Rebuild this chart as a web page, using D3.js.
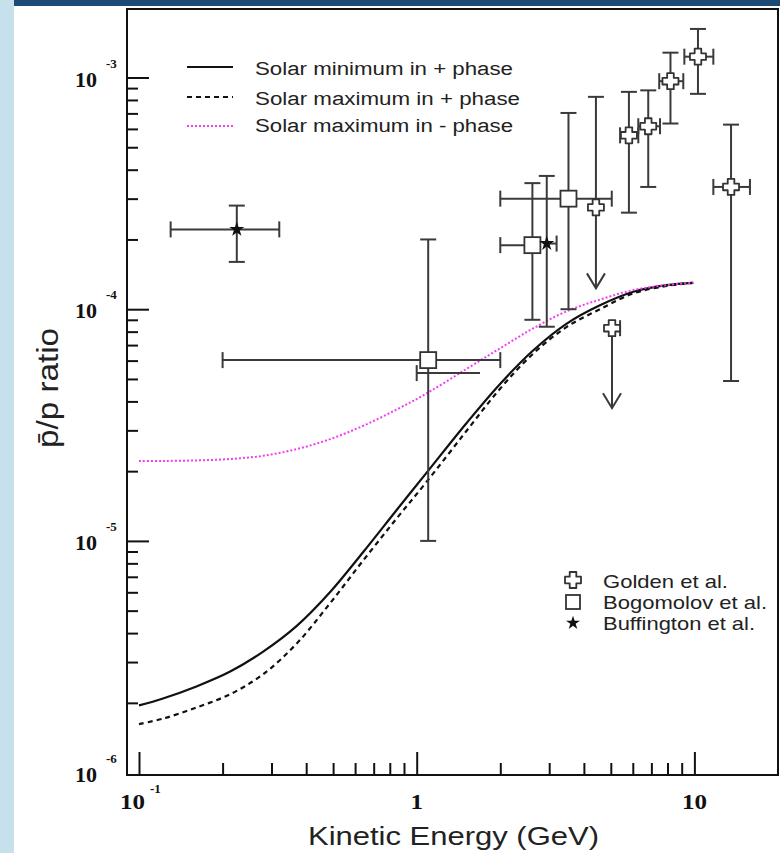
<!DOCTYPE html>
<html><head><meta charset="utf-8">
<script src="https://cdn.jsdelivr.net/npm/d3@7"></script>
<style>body{margin:0;background:#fff}svg{display:block}</style>
</head><body><svg id="c" width="780" height="853"></svg>
<script>
// ---------- data ----------
const energyGrid     = [0.1, 0.122, 0.161, 0.213, 0.28, 0.37, 0.488, 0.642, 0.847, 1.086, 1.51, 2.0, 2.63, 3.47, 4.57, 6.03, 7.94, 9.9];
const solarMinPlus   = [1.95e-6, 2.09e-6, 2.355e-6, 2.73e-6, 3.33e-6, 4.30e-6, 6.02e-6, 8.96e-6, 1.36e-5, 1.97e-5, 3.22e-5, 4.77e-5, 6.65e-5, 8.67e-5, 1.04e-4, 1.19e-4, 1.27e-4, 1.30e-4];
const solarMaxPlus   = [1.62e-6, 1.71e-6, 1.91e-6, 2.18e-6, 2.66e-6, 3.61e-6, 5.39e-6, 8.24e-6, 1.25e-5, 1.80e-5, 2.98e-5, 4.55e-5, 6.44e-5, 8.39e-5, 1.0e-4, 1.17e-4, 1.26e-4, 1.30e-4];
const solarMaxMinus  = [2.21e-5, 2.213e-5, 2.225e-5, 2.257e-5, 2.33e-5, 2.49e-5, 2.75e-5, 3.14e-5, 3.69e-5, 4.33e-5, 5.52e-5, 6.79e-5, 8.27e-5, 9.8e-5, 1.10e-4, 1.21e-4, 1.27e-4, 1.30e-4];
const curveNames     = ["Solar minimum in + phase", "Solar maximum in + phase", "Solar maximum in - phase"];

// E (GeV), ratio, x-range, y-range, arrow = upper limit
const golden = [
  {E: 4.42, v: 2.75e-4, xlo: null, xhi: null, ylo: 1.23e-4, yhi: 8.25e-4, arrow: true},
  {E: 5.05, v: 8.28e-5, xlo: null, xhi: 5.4,  ylo: 3.74e-5, yhi: null,    arrow: true},
  {E: 5.81, v: 5.63e-4, xlo: 5.4,  xhi: 6.28, ylo: 2.61e-4, yhi: 8.67e-4},
  {E: 6.82, v: 6.16e-4, xlo: 6.28, xhi: 7.52, ylo: 3.37e-4, yhi: 8.8e-4},
  {E: 8.2,  v: 9.64e-4, xlo: 7.47, xhi: 9.12, ylo: 6.33e-4, yhi: 1.28e-3},
  {E: 10.3, v: 1.23e-3, xlo: 9.2,  xhi: 11.7, ylo: 8.5e-4,  yhi: 1.62e-3},
  {E: 13.55,v: 3.37e-4, xlo: 11.7, xhi: 15.85,ylo: 4.9e-5,  yhi: 6.26e-4}
];
const bogomolov = [
  {E: 1.1,  v: 6.03e-5, xlo: 0.2, xhi: 2.0,  ylo: 1.0e-5, yhi: 2.0e-4},
  {E: 2.61, v: 1.89e-4, xlo: 2.0, xhi: null, ylo: 9.0e-5, yhi: 3.5e-4},
  {E: 3.52, v: 3.0e-4,  xlo: 2.0, xhi: 5.04, ylo: 1.0e-4, yhi: 7.03e-4}
];
const buffington = [
  {E: 0.225, v: 2.21e-4, xlo: 0.13, xhi: 0.32, ylo: 1.6e-4, yhi: 2.8e-4},
  {E: 2.94,  v: 1.92e-4, xlo: null, xhi: 3.19, ylo: 8.4e-5, yhi: 3.76e-4}
];
const extraBars = [{v: 5.3e-5, xlo: 1.0, xhi: 1.69}];
const markerNames = ["Golden et al.", "Bogomolov et al.", "Buffington et al."];

const xMajorTicks = [0.1, 1, 10];
const xMinorTicks = [0.2,0.3,0.4,0.5,0.6,0.7,0.8,0.9,2,3,4,5,6,7,8,9];
const yMajorTicks = [1e-5, 1e-4, 1e-3];
const yMinorTicks = [2e-6,3e-6,4e-6,5e-6,6e-6,7e-6,8e-6,9e-6,2e-5,3e-5,4e-5,5e-5,6e-5,7e-5,8e-5,9e-5,2e-4,3e-4,4e-4,5e-4,6e-4,7e-4,8e-4,9e-4];
const xTickLabels = [{v: 0.1, base: "10", exp: "-1"}, {v: 1, base: "1", exp: ""}, {v: 10, base: "10", exp: ""}];
const yTickLabels = [{v: 1e-6, base: "10", exp: "-6"}, {v: 1e-5, base: "10", exp: "-5"}, {v: 1e-4, base: "10", exp: "-4"}, {v: 1e-3, base: "10", exp: "-3"}];
const xTitle = "Kinetic Energy (GeV)";
const yTitle = "p\u0304/p ratio";

// ---------- layout ----------
const svg = d3.select("#c");
const L = 127, R = 778, T = 9, B = 775;
const x = d3.scaleLog().domain([0.1, 10]).range([139, 694.4]);
const y = d3.scaleLog().domain([1e-6, 1e-3]).range([772.6, 77.5]);
const sans = "'Liberation Sans', Arial, Helvetica, sans-serif";
const serif = "'Liberation Serif', 'Times New Roman', serif";

// page decoration
svg.append("rect").attr("x",0).attr("y",0).attr("width",780).attr("height",853).attr("fill","#fff");
svg.append("rect").attr("x",0).attr("y",0).attr("width",14).attr("height",853).attr("fill","#c6e1eb");
svg.append("rect").attr("x",14).attr("y",0).attr("width",766).attr("height",6).attr("fill","#1e4b75");

// axes ticks (inside)
function xAxis(vals, size){
  const g = svg.append("g").attr("transform",`translate(0,${B})`)
    .call(d3.axisBottom(x).tickValues(vals).tickSize(-size).tickFormat(""));
  g.select(".domain").remove();
  g.selectAll("line").attr("stroke","#111").attr("stroke-width",2);
}
function yAxis(vals, size){
  const g = svg.append("g").attr("transform",`translate(${L},0)`)
    .call(d3.axisLeft(y).tickValues(vals).tickSize(-size).tickFormat(""));
  g.select(".domain").remove();
  g.selectAll("line").attr("stroke","#111").attr("stroke-width",2);
}
xAxis(xMinorTicks, 12); xAxis(xMajorTicks, 23);
yAxis(yMinorTicks, 11); yAxis(yMajorTicks, 22);

// frame
svg.append("rect").attr("x",L).attr("y",T).attr("width",R-L).attr("height",B-T)
  .attr("fill","none").attr("stroke","#111").attr("stroke-width",2);

// tick labels
xTickLabels.forEach(d => {
  const cx = x(d.v);
  const t = svg.append("text").attr("font-family",serif).attr("font-weight","bold")
    .attr("font-size",21).attr("fill","#111").attr("y",809);
  if (d.exp) {
    t.attr("x", cx - 19).attr("text-anchor","start").attr("textLength",25).attr("lengthAdjust","spacingAndGlyphs").text(d.base);
    svg.append("text").attr("font-family",serif).attr("font-weight","bold").attr("font-size",13)
      .attr("fill","#111").attr("x",cx+11).attr("y",793).text(d.exp);
  } else {
    t.attr("x", cx).attr("text-anchor","middle")
     .attr("textLength", d.base.length*12.5).attr("lengthAdjust","spacingAndGlyphs").text(d.base);
  }
});
yTickLabels.forEach(d => {
  const cy = y(d.v);
  svg.append("text").attr("font-family",serif).attr("font-weight","bold").attr("font-size",21)
    .attr("fill","#111").attr("x",75).attr("y",cy+9).attr("textLength",22).attr("lengthAdjust","spacingAndGlyphs").text(d.base);
  svg.append("text").attr("font-family",serif).attr("font-weight","bold").attr("font-size",13)
    .attr("fill","#111").attr("x",106).attr("y",cy-10).text(d.exp);
});

// axis titles
svg.append("text").attr("font-family",sans).attr("font-size",25).attr("fill","#222")
  .attr("x",308).attr("y",845).attr("textLength",291).attr("lengthAdjust","spacingAndGlyphs").text(xTitle);
svg.append("text").attr("font-family",sans).attr("font-size",26).attr("fill","#222")
  .attr("transform","translate(58,388) scale(1.12,1) rotate(-90)").attr("text-anchor","middle")
  .attr("textLength",120).attr("lengthAdjust","spacingAndGlyphs").text(yTitle);

// curves
const line = d3.line().x(d => x(d[0])).y(d => y(d[1])).curve(d3.curveCatmullRom.alpha(0.5));
const curveStyles = [
  {vals: solarMinPlus,  stroke: "#111", width: 2.2, dash: null},
  {vals: solarMaxPlus,  stroke: "#111", width: 2.2, dash: "5,4"},
  {vals: solarMaxMinus, stroke: "#f23df2", width: 2, dash: "2,2"}
];
curveStyles.forEach(c => {
  svg.append("path").datum(d3.zip(energyGrid, c.vals)).attr("d", line)
    .attr("fill","none").attr("stroke",c.stroke).attr("stroke-width",c.width)
    .attr("stroke-dasharray",c.dash);
});

// error bars
const eb = svg.append("g").attr("stroke","#3a3a3a").attr("stroke-width",2).attr("fill","none");
const cap = 8;
function bars(d){
  const cx = x(d.E), cy = y(d.v);
  if (d.yhi != null) {
    eb.append("line").attr("x1",cx).attr("x2",cx).attr("y1",cy).attr("y2",y(d.yhi));
    eb.append("line").attr("x1",cx-cap).attr("x2",cx+cap).attr("y1",y(d.yhi)).attr("y2",y(d.yhi));
  }
  if (d.ylo != null) {
    const yl = y(d.ylo);
    eb.append("line").attr("x1",cx).attr("x2",cx).attr("y1",cy).attr("y2",yl);
    if (d.arrow) {
      eb.append("path").attr("d",`M${cx-9},${yl-15}L${cx},${yl}L${cx+9},${yl-15}`);
    } else {
      eb.append("line").attr("x1",cx-cap).attr("x2",cx+cap).attr("y1",yl).attr("y2",yl);
    }
  }
  if (d.xlo != null) {
    const xl = x(d.xlo);
    eb.append("line").attr("x1",xl).attr("x2",cx).attr("y1",cy).attr("y2",cy);
    eb.append("line").attr("x1",xl).attr("x2",xl).attr("y1",cy-cap).attr("y2",cy+cap);
  }
  if (d.xhi != null) {
    const xh = x(d.xhi);
    eb.append("line").attr("x1",cx).attr("x2",xh).attr("y1",cy).attr("y2",cy);
    eb.append("line").attr("x1",xh).attr("x2",xh).attr("y1",cy-cap).attr("y2",cy+cap);
  }
}
golden.forEach(bars); bogomolov.forEach(bars); buffington.forEach(bars);
extraBars.forEach(d => {
  const cy = y(d.v), xl = x(d.xlo), xh = x(d.xhi);
  eb.append("line").attr("x1",xl).attr("x2",xh).attr("y1",cy).attr("y2",cy);
  eb.append("line").attr("x1",xl).attr("x2",xl).attr("y1",cy-cap).attr("y2",cy+cap);
});

// markers
const crossPath = (a, w) => `M${-w},${-a}H${w}V${-w}H${a}V${w}H${w}V${a}H${-w}V${w}H${-a}V${-w}H${-w}Z`;
function drawCross(g, cx, cy){
  g.append("path").attr("d",crossPath(8,3.3)).attr("transform",`translate(${cx},${cy})`)
    .attr("fill","#fff").attr("stroke","#333").attr("stroke-width",1.8).attr("stroke-linejoin","round");
}
function drawSquare(g, cx, cy, s){
  g.append("rect").attr("x",cx-s/2).attr("y",cy-s/2).attr("width",s).attr("height",s)
    .attr("fill","#fff").attr("stroke","#333").attr("stroke-width",1.8);
}
function drawStar(g, cx, cy, size){
  g.append("path").attr("d",d3.symbol(d3.symbolStar, size)()).attr("transform",`translate(${cx},${cy})`)
    .attr("fill","#111");
}
const mk = svg.append("g");
golden.forEach(d => drawCross(mk, x(d.E), y(d.v)));
bogomolov.forEach(d => drawSquare(mk, x(d.E), y(d.v), 16));
buffington.forEach(d => drawStar(mk, x(d.E), y(d.v), 70));

// legend: curves
const legY = [67, 97, 126], legBase = [75, 105, 132], legLen = [258, 265, 258];
curveStyles.forEach((c, i) => {
  svg.append("line").attr("x1",187).attr("x2",233).attr("y1",legY[i]).attr("y2",legY[i])
    .attr("stroke",c.stroke).attr("stroke-width",c.width).attr("stroke-dasharray",c.dash);
  svg.append("text").attr("font-family",sans).attr("font-size",18).attr("fill","#222")
    .attr("x",255).attr("y",legBase[i]).attr("textLength",legLen[i]).attr("lengthAdjust","spacingAndGlyphs")
    .text(curveNames[i]);
});
// legend: markers
const mY = [580, 602, 623], mBase = [588, 609, 630], mLen = [125, 164, 152];
drawCross(svg, 573, mY[0]);
drawSquare(svg, 573, mY[1], 14);
drawStar(svg, 573, mY[2], 60);
markerNames.forEach((n, i) => {
  svg.append("text").attr("font-family",sans).attr("font-size",19).attr("fill","#222")
    .attr("x",603).attr("y",mBase[i]).attr("textLength",mLen[i]).attr("lengthAdjust","spacingAndGlyphs").text(n);
});
</script></body></html>
